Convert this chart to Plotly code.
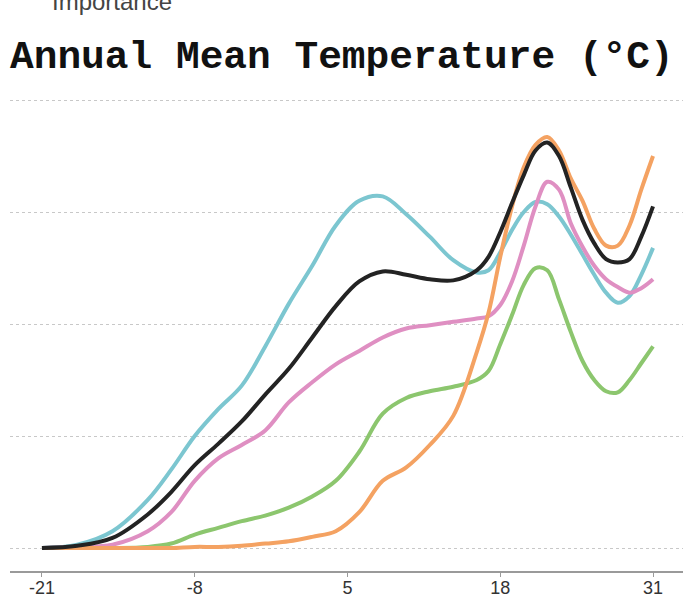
import plotly.graph_objects as go

# Temperature grid (°C)
temps = [-21, -18, -15, -12, -10, -8, -6, -4, -2, 0, 2, 4, 6, 8, 10, 12, 14, 16, 17, 18,
         19, 20, 21, 22, 23, 24, 25, 26, 27, 28, 29, 30, 31]

cyan_vals = [0, 0.03, 0.15, 0.43, 0.70, 1.00, 1.24, 1.45, 1.80, 2.18, 2.52, 2.88, 3.10, 3.14,
             2.98, 2.78, 2.57, 2.46, 2.48, 2.64, 2.84, 3.00, 3.09, 3.07, 2.96, 2.80, 2.62,
             2.44, 2.28, 2.19, 2.25, 2.44, 2.68]
black_vals = [0, 0.02, 0.09, 0.30, 0.50, 0.74, 0.93, 1.13, 1.37, 1.60, 1.88, 2.16, 2.38, 2.47,
              2.44, 2.40, 2.39, 2.48, 2.60, 2.82, 3.08, 3.33, 3.55, 3.62, 3.50, 3.22, 2.93,
              2.72, 2.58, 2.55, 2.58, 2.78, 3.05]
pink_vals = [0, 0.01, 0.03, 0.15, 0.32, 0.60, 0.80, 0.92, 1.05, 1.30, 1.48, 1.64, 1.76, 1.88,
             1.96, 1.99, 2.02, 2.05, 2.07, 2.17, 2.38, 2.70, 3.05, 3.27, 3.20, 2.90, 2.69,
             2.52, 2.40, 2.33, 2.28, 2.32, 2.40]
green_vals = [0, 0, 0, 0.01, 0.04, 0.12, 0.18, 0.24, 0.29, 0.36, 0.46, 0.60, 0.86, 1.20,
              1.34, 1.40, 1.44, 1.50, 1.58, 1.82, 2.08, 2.35, 2.50, 2.48, 2.22, 1.93, 1.67,
              1.50, 1.40, 1.39, 1.50, 1.65, 1.80]
orange_vals = [0, 0, 0, 0, 0, 0.01, 0.01, 0.02, 0.04, 0.06, 0.10, 0.15, 0.32, 0.60, 0.72,
               0.92, 1.18, 1.75, 2.10, 2.60, 3.05, 3.40, 3.60, 3.67, 3.55, 3.30, 3.10, 2.85,
               2.70, 2.70, 2.88, 3.20, 3.50]

tick_vals = [-21, -8, 5, 18, 31]
tick_text = ["-21", "-8", "5", "18", "31"]

series = [
    ("green", green_vals, "#8cc66e"),
    ("cyan", cyan_vals, "#7cc6d0"),
    ("pink", pink_vals, "#df8fc2"),
    ("orange", orange_vals, "#f4a262"),
    ("black", black_vals, "#232323"),
]

fig = go.Figure()
for name, vals, color in series:
    fig.add_trace(go.Scatter(
        x=temps, y=vals, mode="lines", name=name,
        line=dict(color=color, width=4, shape="spline", smoothing=1.0),
        showlegend=False, hoverinfo="skip",
    ))

fig.update_layout(
    width=692, height=606,
    margin=dict(l=10, r=9, t=95, b=35),
    paper_bgcolor="white", plot_bgcolor="white",
    xaxis=dict(
        range=[-23.72, 33.55], tickvals=tick_vals, ticktext=tick_text,
        showgrid=False, zeroline=False, automargin=False,
        showline=True, linecolor="#9a9a9a", linewidth=2,
        ticks="outside", ticklen=4, tickcolor="#9a9a9a", tickwidth=1,
        ticklabelstandoff=-5,
        tickfont=dict(family="Liberation Sans Narrow, Arial Narrow, sans-serif",
                      size=18, color="#333"),
    ),
    yaxis=dict(
        range=[-0.205, 4.045], tickvals=[0, 1, 2, 3, 4], showticklabels=False,
        showgrid=True, gridcolor="#c8c8c8", gridwidth=1, griddash="dot",
        zeroline=False, showline=False, ticks="", automargin=False,
    ),
)

fig.add_annotation(
    text="Annual Mean Temperature (°C)", xref="paper", yref="paper",
    x=-0.003, y=(571 - 57) / 476, xanchor="left", yanchor="middle", showarrow=False,
    font=dict(family="Courier New, Liberation Mono, monospace", size=39.5,
              color="#111", weight="bold"),
)
fig.add_annotation(
    text="Importance", xref="paper", yref="paper",
    x=(50 - 10) / 673, y=(571 - 1) / 476, xanchor="left", yanchor="middle",
    showarrow=False,
    font=dict(family="Liberation Sans, Arial, sans-serif", size=24, color="#444"),
)

fig.write_html("out.html")
